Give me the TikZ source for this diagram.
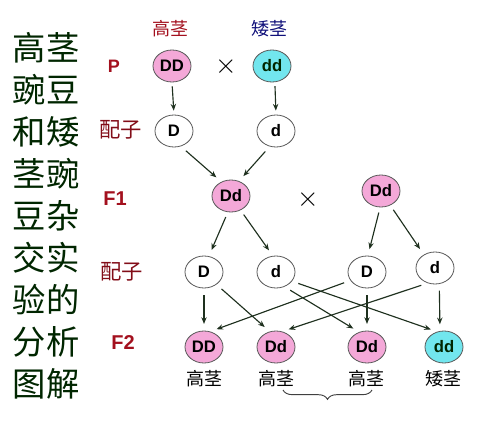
\documentclass[tikz,border=0pt]{standalone}
\usepackage{fontspec}
\setmainfont{Liberation Sans}
\newfontfamily\cjk{Noto Sans CJK SC}
\usepackage{xcolor}
\usetikzlibrary{shapes.geometric,arrows.meta,decorations.pathreplacing}

\definecolor{tallpink}{HTML}{F4A8D8}
\definecolor{dwarfcyan}{HTML}{72E6EE}
\definecolor{genred}{HTML}{A3101E}
\definecolor{dwarfblue}{HTML}{10107A}
\definecolor{arrowdark}{HTML}{1E301E}

\tikzset{
  gene/.style={ellipse, draw=black!65, line width=0.6pt, inner sep=0pt,
    minimum width=28.5pt, minimum height=24pt, font=\bfseries\fontsize{12.5}{12.5}\selectfont},
  tallgene/.style={gene, fill=tallpink},
  dwarfgene/.style={gene, fill=dwarfcyan, text=green!15!black},
  gamete/.style={gene, fill=white},
  genlabel/.style={text=genred, font=\bfseries\fontsize{15}{15}\selectfont},
  gamlabel/.style={text=genred!80!black, font=\cjk\fontsize{16}{16}\selectfont},
  stem/.style={font=\cjk\fontsize{13.5}{13.5}\selectfont},
  cross/.style={font=\fontsize{20}{20}\selectfont},
  arr/.style={-{Stealth[length=5pt,width=4pt]}, draw=arrowdark, line width=0.85pt,
    shorten <=5pt, shorten >=5pt},
}

\begin{document}
\begin{tikzpicture}[x=0.75pt,y=-0.75pt]
\useasboundingbox (0,0) rectangle (480,422);

% Title down the left side
\node[text=black!85!green, font=\cjk\fontsize{25}{31.5}\selectfont, align=left]
  (title) at (46,216) {高茎\\豌豆\\和矮\\茎豌\\豆杂\\交实\\验的\\分析\\图解};

% Generation labels
\node[genlabel, font=\bfseries\fontsize{13.5}{13.5}\selectfont] (lP) at (114,66) {P};
\node[gamlabel] (lg1) at (121,130) {配子};
\node[genlabel] (lF1) at (115,199) {F1};
\node[gamlabel] (lg2) at (122,272) {配子};
\node[genlabel] (lF2) at (123,343) {F2};

% Parents
\node[stem, text=genred] (ptall) at (170,29) {高茎};
\node[stem, text=dwarfblue] (pdwarf) at (270,29) {矮茎};
\node[tallgene] (DD) at (172,66) {DD};
\node[dwarfgene] (dd) at (272,66) {dd};
\node[cross] (x1) at (226,67) {$\times$};

% Parent gametes
\node[gamete] (gD) at (174,131) {D};
\node[gamete] (gd) at (276,131) {d};

% F1
\node[tallgene] (Fa) at (231,196) {Dd};
\node[tallgene] (Fb) at (381,191) {Dd};
\node[cross] (x2) at (308,200) {$\times$};

% F1 gametes
\node[gamete] (hD1) at (204,272) {D};
\node[gamete] (hd1) at (276,272) {d};
\node[gamete] (hD2) at (367,272) {D};
\node[gamete] (hd2) at (435,268) {d};

% F2
\node[tallgene] (Ga) at (204,347) {DD};
\node[tallgene] (Gb) at (276,347) {Dd};
\node[tallgene] (Gc) at (367,347) {Dd};
\node[dwarfgene] (Gd) at (444,347) {dd};
\node[stem] (sa) at (204,379) {高茎};
\node[stem] (sb) at (276,379) {高茎};
\node[stem] (sc) at (367,379) {高茎};
\node[stem] (sd) at (444,379) {矮茎};

% Arrows
\draw[arr, shorten <=3pt, shorten >=3pt] (DD.south) -- (gD.north);
\draw[arr, shorten <=3pt, shorten >=3pt] (dd.-80) -- (gd.north);
\draw[arr] (gD.-66) -- (Fa.124);
\draw[arr] (gd.-112) -- (Fa.62);
\draw[arr, shorten <=4pt] (Fa.-101) -- (hD1.73);
\draw[arr, shorten <=4pt] (Fa.-56) -- (hd1.101);
\draw[arr, shorten <=4pt] (Fb.-93) -- (hD2.87);
\draw[arr, shorten <=4pt] (Fb.-57) -- (hd2.130);
\draw[arr] (hD1.south) -- (Ga.north);
\draw[arr] (hD1.-45) -- (Gb.112);
\draw[arr] (hd1.-60) -- (Gc.118);
\draw[arr] (hd1.-30) -- (Gd.114);
\draw[arr] (hD2.-153) -- (Ga.68);
\draw[arr] (hD2.south) -- (Gc.north);
\draw[arr] (hd2.-116) -- (Gb.68);
\draw[arr] (hd2.-75) -- (Gd.104);

% Brace under the two Dd
\draw[black!75, line width=0.7pt, decorate, decoration={brace, mirror, amplitude=7pt}]
  (283,390) -- (372,390);

\end{tikzpicture}
\end{document}
